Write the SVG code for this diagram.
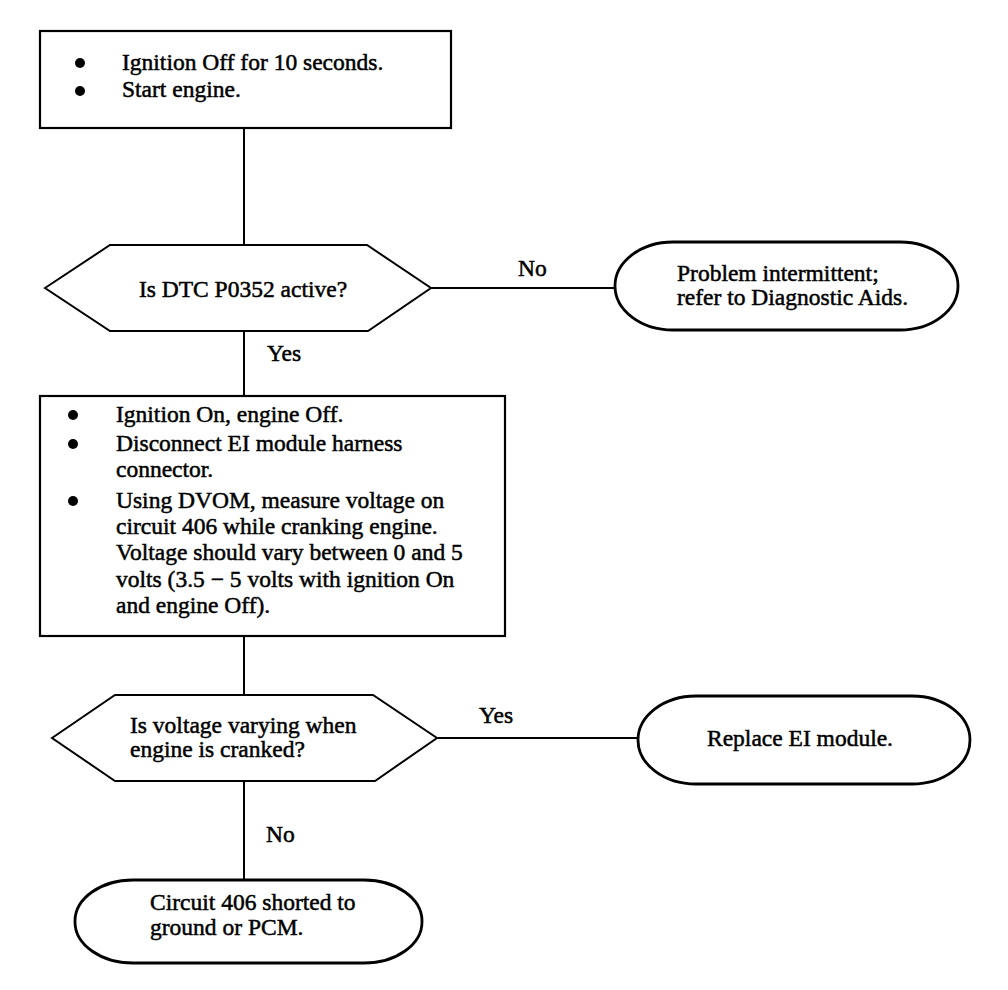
<svg xmlns="http://www.w3.org/2000/svg" width="1008" height="990" viewBox="0 0 1008 990">
<style>
.t{font-family:"Liberation Serif","Times New Roman",serif;font-size:23.5px;fill:#000;stroke:#000;stroke-width:0.5}
.s{fill:#fff;stroke:#000;stroke-width:2.2}
.h{fill:#fff;stroke:#000;stroke-width:2}
.r{fill:#fff;stroke:#000;stroke-width:2.8}
.c{fill:none;stroke:#000;stroke-width:2}
</style>
<rect width="1008" height="990" fill="#fff"/>
<g id="connectors">
<line class="c" x1="244" y1="128" x2="244" y2="245"/>
<line class="c" x1="431" y1="288" x2="615" y2="288"/>
<line class="c" x1="244" y1="331" x2="244" y2="396"/>
<line class="c" x1="244" y1="636" x2="244" y2="695"/>
<line class="c" x1="437" y1="738" x2="638" y2="738"/>
<line class="c" x1="244" y1="781" x2="244" y2="880"/>
<text class="t" x="518" y="276">No</text>
<text class="t" x="267" y="361">Yes</text>
<text class="t" x="479" y="723">Yes</text>
<text class="t" x="266" y="842">No</text>
</g>
<g id="step1">
<rect class="s" x="40" y="31" width="411" height="97"/>
<circle cx="80" cy="63" r="5"/>
<circle cx="80" cy="91" r="5"/>
<text class="t" x="122" y="70">Ignition Off for 10 seconds.</text>
<text class="t" x="122" y="97">Start engine.</text>
</g>
<g id="decision1">
<polygon class="h" points="45,288 110,245 367,245 431,288 368,331 110,331"/>
<text class="t" x="243" y="297" text-anchor="middle">Is DTC P0352 active?</text>
</g>
<g id="intermittent">
<rect class="r" x="615" y="242" width="343" height="88" rx="58" ry="44"/>
<text class="t" x="677" y="281">Problem intermittent;</text>
<text class="t" x="677" y="305">refer to Diagnostic Aids.</text>
</g>
<g id="step2">
<rect class="s" x="40" y="396" width="465" height="240"/>
<circle cx="73" cy="415" r="5"/>
<circle cx="73" cy="444" r="5"/>
<circle cx="73" cy="501" r="5"/>
<text class="t" x="116" y="422">Ignition On, engine Off.</text>
<text class="t" x="116" y="451">Disconnect EI module harness</text>
<text class="t" x="116" y="477">connector.</text>
<text class="t" x="116" y="508">Using DVOM, measure voltage on</text>
<text class="t" x="116" y="534">circuit 406 while cranking engine.</text>
<text class="t" x="116" y="560">Voltage should vary between 0 and 5</text>
<text class="t" x="116" y="587">volts (3.5 − 5 volts with ignition On</text>
<text class="t" x="116" y="613">and engine Off).</text>
</g>
<g id="decision2">
<polygon class="h" points="52,738 115,695 373,695 437,738 375,781 115,781"/>
<text class="t" x="130" y="733">Is voltage varying when</text>
<text class="t" x="130" y="757">engine is cranked?</text>
</g>
<g id="replace">
<rect class="r" x="638" y="696" width="332" height="88" rx="58" ry="44"/>
<text class="t" x="800" y="746" text-anchor="middle">Replace EI module.</text>
</g>
<g id="shorted">
<rect class="r" x="75" y="880" width="347" height="83" rx="58" ry="41"/>
<text class="t" x="150" y="910">Circuit 406 shorted to</text>
<text class="t" x="150" y="935">ground or PCM.</text>
</g>
</svg>
